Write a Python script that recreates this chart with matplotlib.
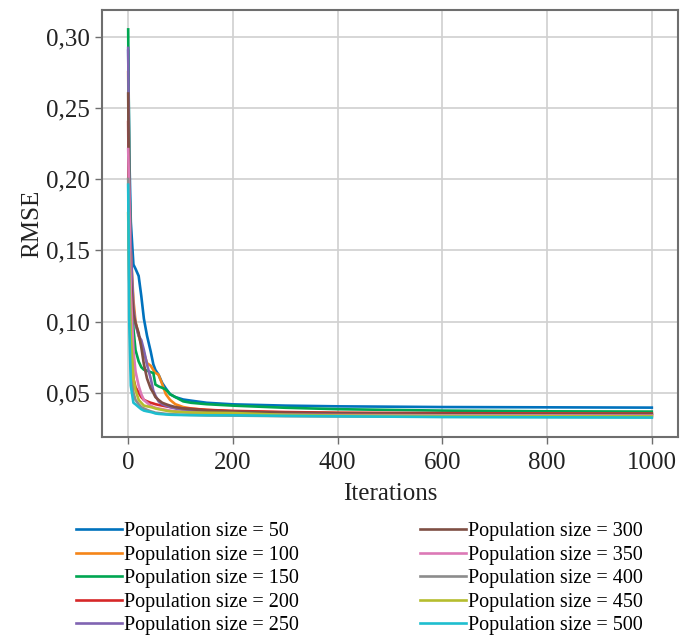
import matplotlib
matplotlib.use('Agg')
import matplotlib.pyplot as plt
from matplotlib.ticker import FuncFormatter

plt.rcParams['font.family'] = ['Liberation Serif', 'DejaVu Serif']

iterations = [0, 2, 5, 10, 14, 20, 25, 30, 36, 43, 48, 52, 58, 65, 72, 80, 90, 105, 120, 150, 200, 300, 400, 600, 800, 1000]

rmse_50 = [0.290, 0.220, 0.170, 0.140, 0.137, 0.132, 0.118, 0.102, 0.090, 0.079, 0.070, 0.066, 0.0627, 0.0569, 0.0530, 0.0490, 0.0470, 0.0453, 0.0445, 0.0430, 0.0419, 0.0410, 0.0405, 0.0400, 0.0398, 0.0396]
rmse_100 = [0.275, 0.200, 0.150, 0.115, 0.100, 0.090, 0.084, 0.078, 0.0708, 0.0690, 0.066, 0.064, 0.0627, 0.0560, 0.0490, 0.0450, 0.0420, 0.0400, 0.0390, 0.0380, 0.0370, 0.0362, 0.0358, 0.0355, 0.0352, 0.0350]
rmse_150 = [0.305, 0.210, 0.140, 0.095, 0.080, 0.072, 0.068, 0.0662, 0.0655, 0.0645, 0.0639, 0.0558, 0.0545, 0.0535, 0.0523, 0.0490, 0.0470, 0.0440, 0.0430, 0.0420, 0.0410, 0.0395, 0.0385, 0.0375, 0.0370, 0.0368]
rmse_200 = [0.240, 0.150, 0.090, 0.060, 0.054, 0.050, 0.047, 0.045, 0.044, 0.043, 0.0425, 0.042, 0.0415, 0.041, 0.0405, 0.040, 0.0395, 0.039, 0.0388, 0.0380, 0.0373, 0.0365, 0.0360, 0.0357, 0.0355, 0.0354]
rmse_250 = [0.292, 0.200, 0.150, 0.110, 0.098, 0.090, 0.087, 0.080, 0.0697, 0.060, 0.0514, 0.048, 0.044, 0.042, 0.041, 0.040, 0.039, 0.038, 0.0375, 0.0365, 0.0358, 0.0352, 0.0349, 0.0346, 0.0345, 0.0344]
rmse_300 = [0.260, 0.180, 0.130, 0.105, 0.099, 0.092, 0.082, 0.070, 0.060, 0.053, 0.050, 0.047, 0.045, 0.043, 0.042, 0.041, 0.040, 0.039, 0.0385, 0.0375, 0.0368, 0.0360, 0.0356, 0.0352, 0.0350, 0.0350]
rmse_350 = [0.221, 0.190, 0.120, 0.080, 0.065, 0.055, 0.049, 0.045, 0.043, 0.041, 0.040, 0.0395, 0.039, 0.0385, 0.038, 0.0375, 0.037, 0.0365, 0.036, 0.0355, 0.0350, 0.0346, 0.0344, 0.0342, 0.0341, 0.0340]
rmse_400 = [0.200, 0.130, 0.070, 0.050, 0.045, 0.042, 0.040, 0.039, 0.038, 0.037, 0.0365, 0.036, 0.0358, 0.0355, 0.0352, 0.035, 0.0348, 0.0346, 0.0345, 0.0342, 0.0340, 0.0336, 0.0334, 0.0332, 0.0331, 0.0330]
rmse_450 = [0.176, 0.130, 0.090, 0.060, 0.052, 0.045, 0.043, 0.041, 0.0405, 0.040, 0.0395, 0.039, 0.0385, 0.038, 0.0375, 0.037, 0.0368, 0.0365, 0.0362, 0.0360, 0.0358, 0.0345, 0.0340, 0.0337, 0.0336, 0.0335]
rmse_500 = [0.196, 0.100, 0.055, 0.043, 0.0419, 0.040, 0.0385, 0.0375, 0.037, 0.0365, 0.036, 0.0355, 0.0352, 0.035, 0.0348, 0.0346, 0.0345, 0.0344, 0.0343, 0.0342, 0.0342, 0.0338, 0.0335, 0.0330, 0.0328, 0.0326]

series = [rmse_50, rmse_100, rmse_150, rmse_200, rmse_250,
          rmse_300, rmse_350, rmse_400, rmse_450, rmse_500]
pop_sizes = [50, 100, 150, 200, 250, 300, 350, 400, 450, 500]
colors = ['#0072bd', '#f58518', '#00a651', '#d62728', '#8064b2',
          '#7f4f44', '#dc79b6', '#8c8c8c', '#b5bd2e', '#1ebecf']

fig = plt.figure(figsize=(6.94, 6.37), dpi=100)
ax = fig.add_axes([102 / 694, 1 - 437 / 637, 576 / 694, 427 / 637])

for vals, size, c in zip(series, pop_sizes, colors):
    ax.plot(iterations, vals, color=c, lw=1.9, label=f'Population size = {size}')

ax.set_xticks([0, 200, 400, 600, 800, 1000])
ax.set_yticks([0.05, 0.10, 0.15, 0.20, 0.25, 0.30])
ax.yaxis.set_major_formatter(FuncFormatter(lambda v, p: f'{v:.2f}'.replace('.', ',')))
ax.grid(True, color='#d0d0d0', lw=1.2)
ax.set_axisbelow(True)
for s in ax.spines.values():
    s.set_color('#6e6e6e')
    s.set_linewidth(1.5)
ax.tick_params(colors='#6e6e6e', labelcolor='#222222', labelsize=18, length=5, width=1)
ax.tick_params(axis='x', pad=6)
ax.set_xlabel('Iterations', fontsize=18, color='#222222', labelpad=6)
ax.set_ylabel('RMSE', fontsize=18, color='#222222', labelpad=2)

fig.legend(loc='upper center', bbox_to_anchor=(0.518, 1 - 514 / 637), ncol=2,
           frameon=False, fontsize=14.5, handlelength=2.3, handletextpad=0.1,
           labelspacing=0.22, columnspacing=6.0, borderaxespad=0)

fig.savefig('out.png', dpi=100)
